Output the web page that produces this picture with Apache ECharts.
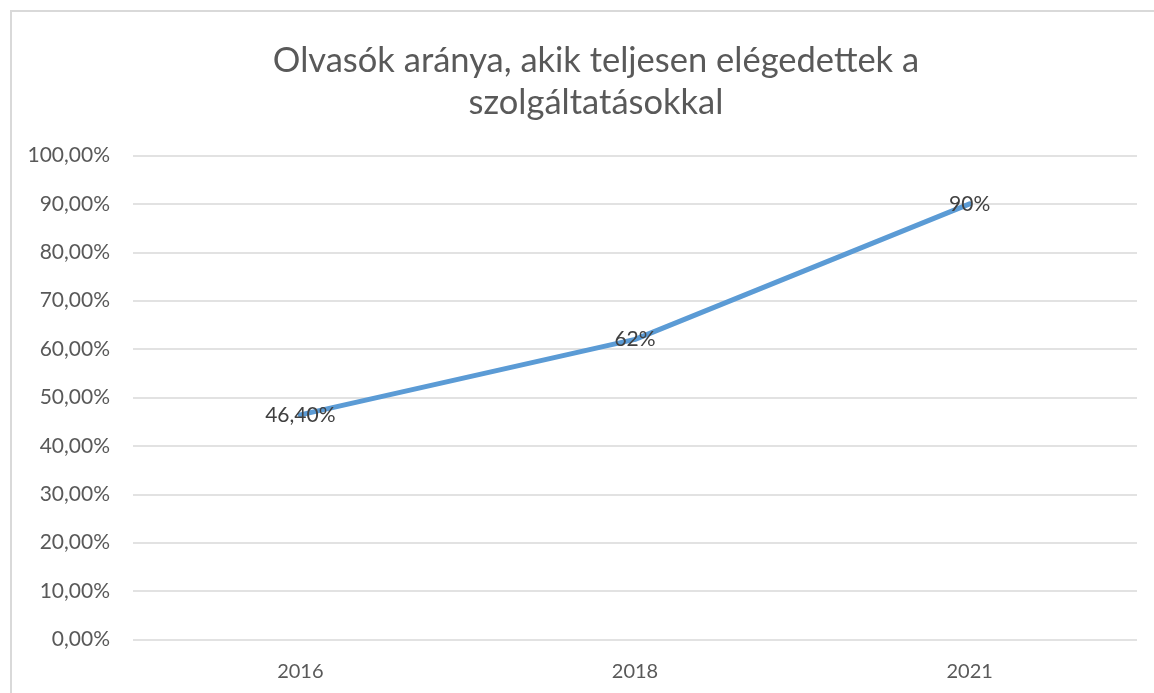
<!DOCTYPE html>
<html>
<head>
<meta charset="utf-8">
<script src="https://cdn.jsdelivr.net/npm/echarts@6/dist/echarts.min.js"></script>
<style>
  html, body { margin: 0; padding: 0; background: #fff; overflow: hidden; }
  #frame { position: absolute; left: 10px; top: 10px; width: 1200px; height: 760px;
           border: 2px solid #d9d9d9; box-sizing: border-box; }
  #chart { position: absolute; left: 0; top: 0; width: 1154px; height: 693px; }
</style>
</head>
<body>
<div id="frame"></div>
<div id="chart"></div>
<script>
// data
var years = ['2016', '2018', '2021'];
var satisfied = [0.464, 0.62, 0.90];
var pointLabels = ['46,40%', '62%', '90%'];

var chart = echarts.init(document.getElementById('chart'), null, { renderer: 'canvas' });
chart.setOption({
  animation: false,
  title: {
    text: 'Olvasók aránya, akik teljesen elégedettek a\nszolgáltatásokkal',
    left: 591,
    top: 35,
    textAlign: 'center',
    textStyle: { fontFamily: 'Lato', fontSize: 34.5, fontWeight: 'normal', color: '#595959', lineHeight: 42 }
  },
  grid: { left: 133, right: 17, top: 155.5, bottom: 53.5, containLabel: false },
  xAxis: {
    type: 'category',
    data: years,
    boundaryGap: true,
    axisLine: { show: false },
    axisTick: { show: false },
    axisLabel: { color: '#595959', fontFamily: 'Lato', fontSize: 20, margin: 22 }
  },
  yAxis: {
    type: 'value',
    min: 0, max: 1, interval: 0.1,
    axisLine: { show: false },
    axisTick: { show: false },
    axisLabel: {
      color: '#595959', fontFamily: 'Lato', fontSize: 21, margin: 23,
      formatter: function(v) { return (v * 100).toFixed(2).replace('.', ',') + '%'; }
    },
    splitLine: { lineStyle: { color: '#d9d9d9', width: 1.5 } }
  },
  series: [{
    type: 'line',
    data: satisfied,
    showSymbol: true,
    symbol: 'circle',
    symbolSize: 4,
    itemStyle: { color: '#5b9bd5', borderWidth: 0 },
    lineStyle: { color: '#5b9bd5', width: 5, cap: 'round', join: 'round' },
    label: {
      show: true,
      position: 'inside',
      color: '#404040',
      fontFamily: 'Lato',
      fontSize: 21,
      formatter: function(p) { return pointLabels[p.dataIndex]; }
    }
  }]
});
</script>
</body>
</html>
